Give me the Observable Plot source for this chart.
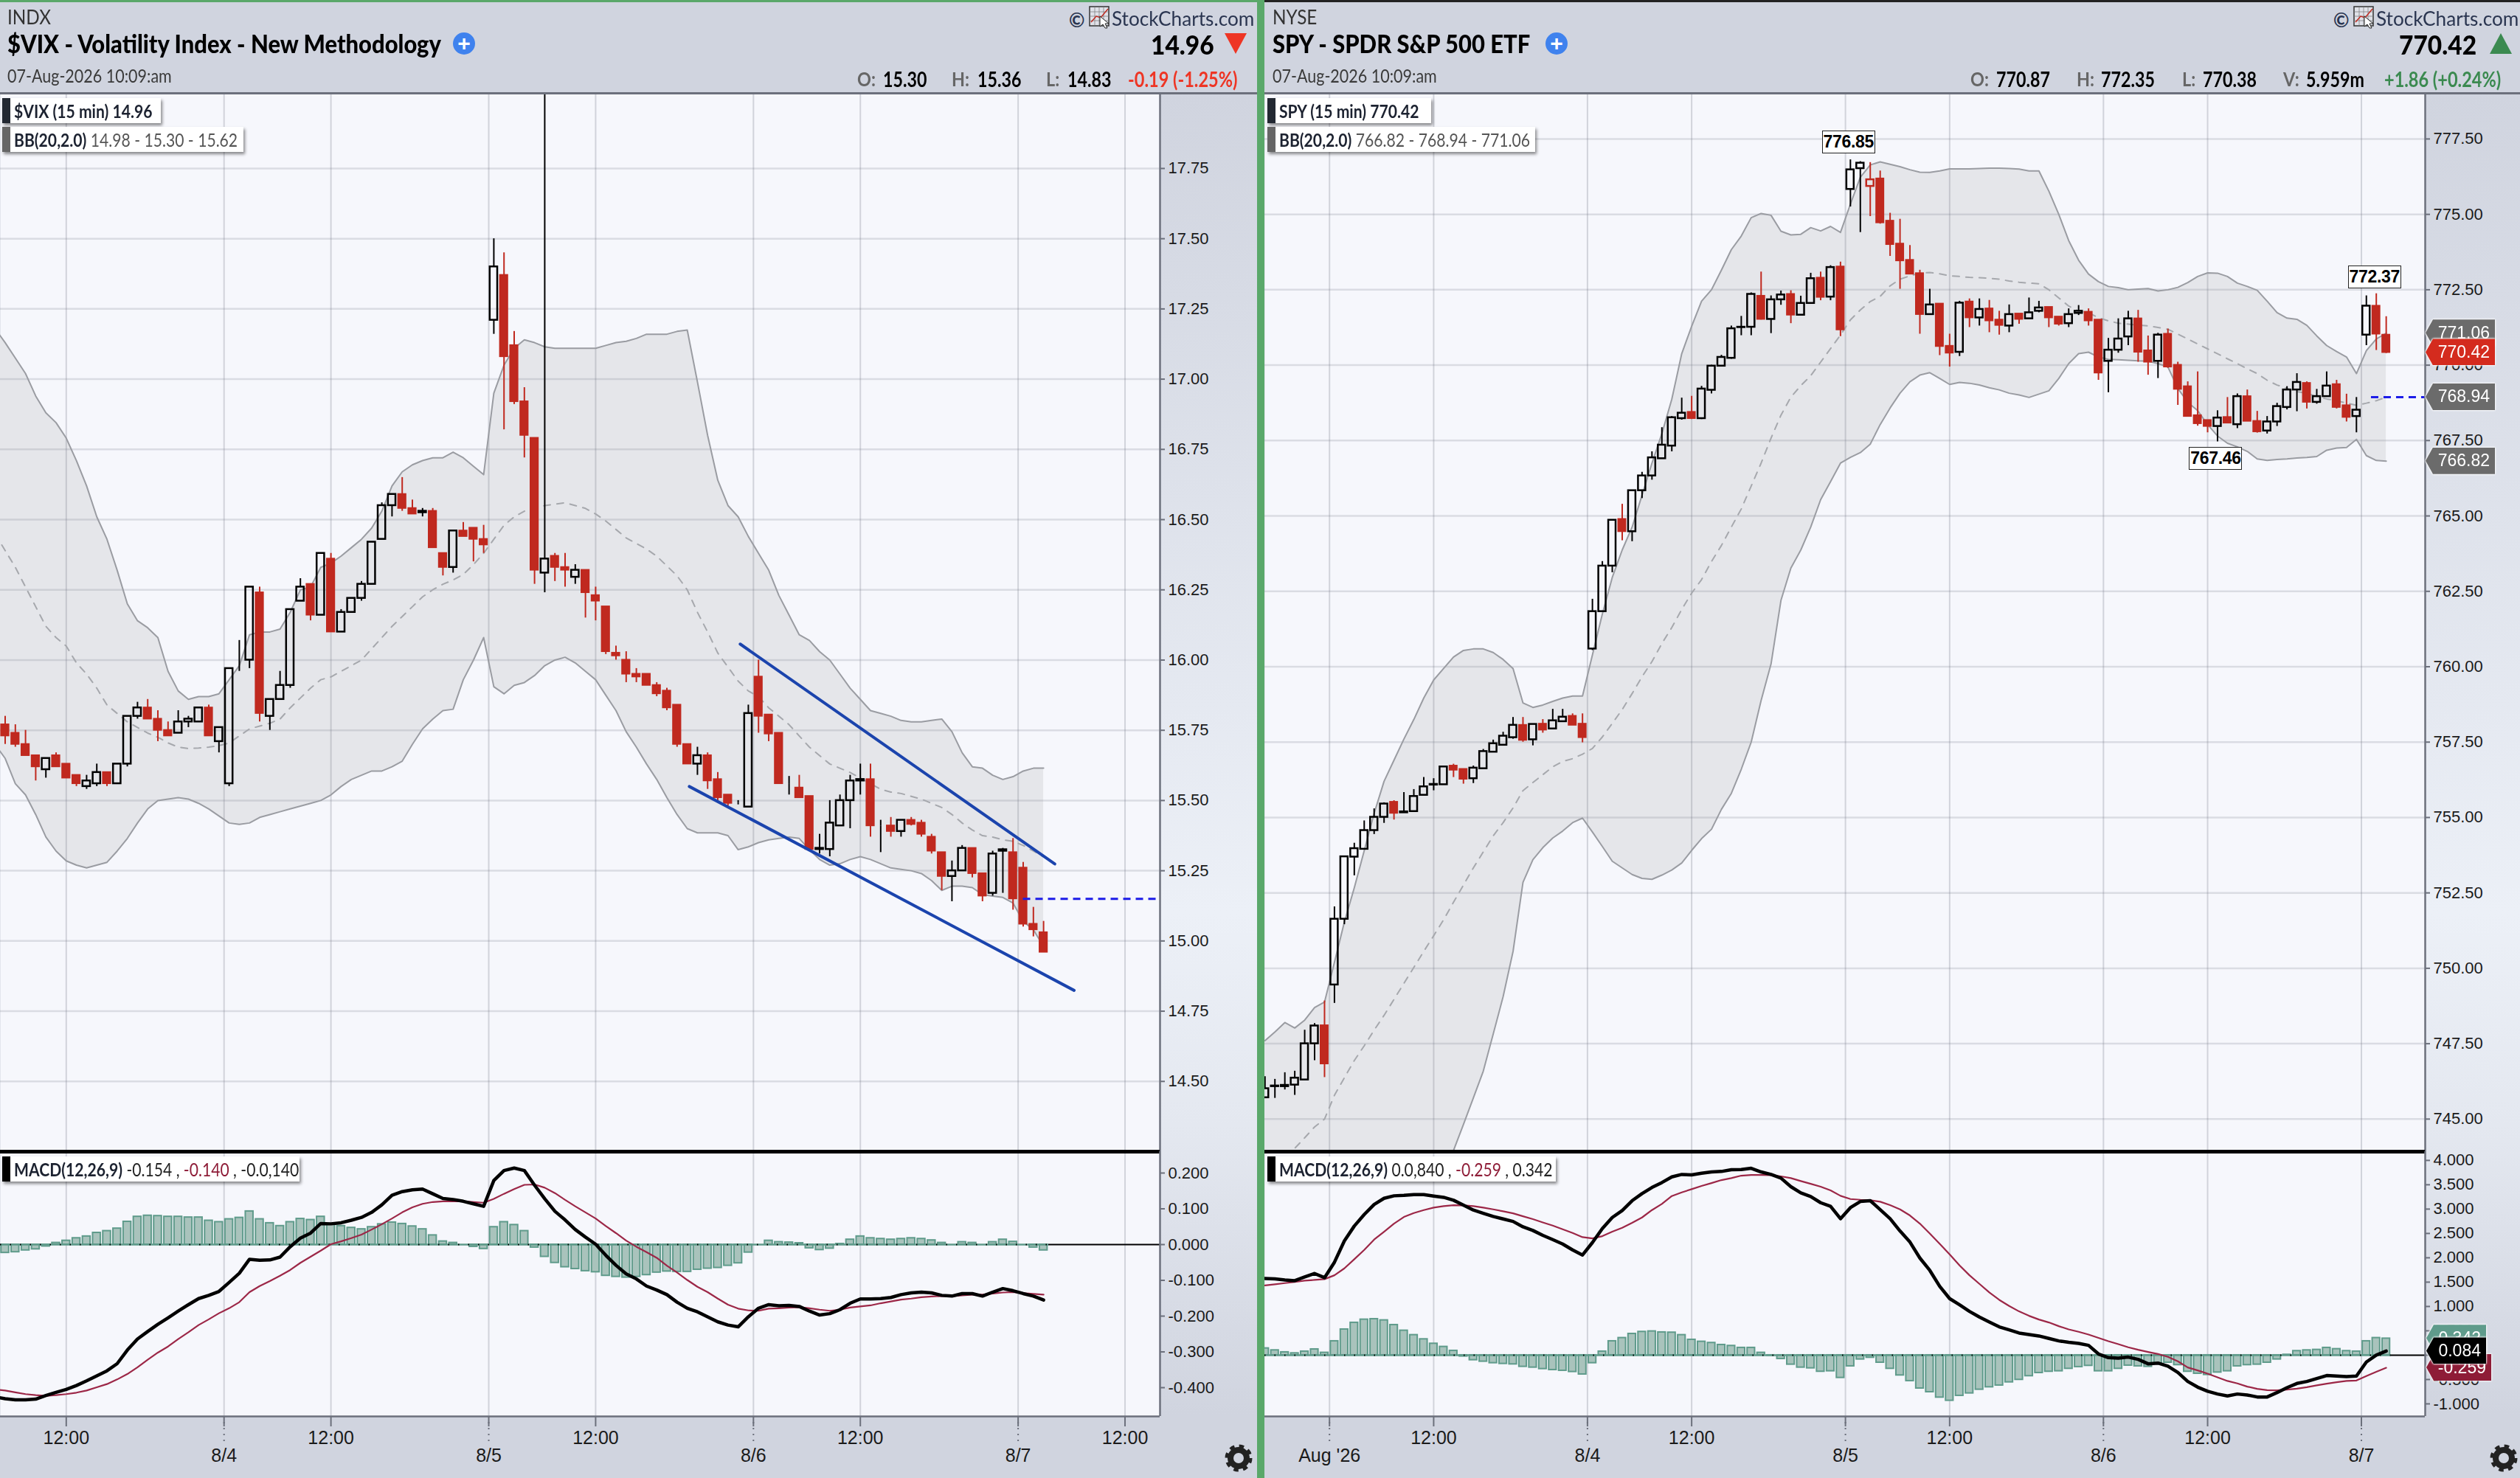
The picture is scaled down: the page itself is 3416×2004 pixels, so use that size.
<!DOCTYPE html>
<html><head><meta charset="utf-8">
<script src="https://cdn.jsdelivr.net/npm/d3@7"></script>
<script src="https://cdn.jsdelivr.net/npm/@observablehq/plot@0.6"></script>
<style>
html,body{margin:0;padding:0;background:#d0d4df;}
#root{position:relative;width:3416px;height:2004px;overflow:hidden;background:#d0d4df;font-family:Lato,sans-serif;color:#000;}
#root svg{position:absolute;background:transparent;overflow:visible;}
.t{position:absolute;white-space:pre;line-height:1;transform-origin:left top;}
.box{position:absolute;background:#fff;box-shadow:2px 3px 4px rgba(0,0,0,.45);display:flex;align-items:center;white-space:pre;font-family:Lato,sans-serif;font-size:25px;box-sizing:border-box;padding-left:16px;}
.box i{position:absolute;left:0;top:0;bottom:0;width:11px;}
.box span.in{display:inline-block;transform:scaleX(.845);transform-origin:left center;}
.tagw{position:absolute;filter:drop-shadow(0 0 1px #fff) drop-shadow(0 0 1px #fff);}
.tag{height:36px;color:#fff;font:23px "Liberation Sans",sans-serif;display:flex;align-items:center;justify-content:flex-end;padding-right:7px;box-sizing:border-box;clip-path:polygon(0 50%,10px 0,100% 0,100% 100%,10px 100%);}
.call{position:absolute;background:#fff;border:1.5px solid #222;font:bold 23px "Liberation Sans",sans-serif;letter-spacing:-.3px;display:flex;align-items:center;justify-content:center;box-sizing:border-box;height:31px;width:72px;transform:translateX(-50%);}
.plus{position:absolute;width:30px;height:30px;border-radius:50%;background:#3f82ee;color:#fff;font:bold 30px/29px "Liberation Sans";text-align:center;}
.gut{position:absolute;top:127px;height:1793px;background:linear-gradient(#d0d4df 0%,#ecf0f7 62%,#e4e8f0 78%,#d0d4df 100%);}
</style></head><body><div id="root"></div>
<script>
// ---------- tick labels ----------
const vixPriceTicks=[14.5,14.75,15,15.25,15.5,15.75,16,16.25,16.5,16.75,17,17.25,17.5,17.75];
const spyPriceTicks=[745,747.5,750,752.5,755,757.5,760,762.5,765,767.5,770,772.5,775,777.5];
const vixMacdTicks=[-0.4,-0.3,-0.2,-0.1,0,0.1,0.2];
const spyMacdTicks=[-1,-0.5,0,0.5,1,1.5,2,2.5,3,3.5,4];
const vixNoonBars=[6,32,58,84,110];
const spyNoonBars=[17,43,69,95];
const vixDayBars=[21.5,47.5,73.5,99.5];
const vixDayLabels=["8/4","8/5","8/6","8/7"];
const spyDayBars=[6.5,32.5,58.5,84.5,110.5];
const spyDayLabels=["Aug '26","8/4","8/5","8/6","8/7"];
// ---------- VIX candles ----------
const vixOpen=[15.77,15.74,15.70,15.66,15.61,15.66,15.63,15.59,15.55,15.56,15.60,15.56,15.63,15.80,15.83,15.79,15.75,15.74,15.78,15.78,15.83,15.71,15.56,15.98,16.00,16.24,15.80,15.86,15.91,16.21,16.27,16.16,16.36,16.10,16.17,16.22,16.27,16.43,16.55,16.59,16.54,16.525,16.53,16.38,16.33,16.46,16.47,16.43,17.21,17.37,17.12,16.92,16.79,16.31,16.37,16.33,16.295,16.32,16.23,16.19,16.025,16.00,15.95,15.95,15.91,15.89,15.84,15.70,15.63,15.66,15.575,15.52,15.49,15.477,15.94,15.805,15.74,15.56,15.545,15.515,15.326,15.326,15.41,15.50,15.57,15.575,15.41,15.41,15.39,15.43,15.42,15.37,15.315,15.23,15.25,15.33,15.24,15.17,15.32,15.315,15.26,15.06,15.03];
const vixHigh=[15.80,15.77,15.75,15.66,15.65,15.67,15.63,15.59,15.59,15.63,15.60,15.63,15.80,15.85,15.86,15.82,15.78,15.82,15.80,15.83,15.84,15.76,15.97,16.07,16.26,16.26,15.86,15.96,16.18,16.29,16.27,16.38,16.38,16.18,16.22,16.28,16.42,16.56,16.59,16.65,16.57,16.54,16.54,16.38,16.46,16.49,16.47,16.48,17.50,17.45,17.17,16.97,16.79,18.40,16.38,16.38,16.34,16.32,16.26,16.19,16.05,16.03,15.97,15.95,15.92,15.90,15.84,15.70,15.69,15.67,15.60,15.52,15.50,15.84,16.00,15.805,15.74,15.586,15.59,15.515,15.38,15.50,15.52,15.59,15.63,15.63,15.43,15.44,15.43,15.44,15.43,15.38,15.315,15.285,15.34,15.33,15.24,15.32,15.33,15.365,15.28,15.12,15.07];
const vixLow=[15.70,15.69,15.66,15.57,15.58,15.62,15.58,15.55,15.54,15.55,15.55,15.56,15.62,15.79,15.79,15.71,15.73,15.74,15.76,15.78,15.73,15.67,15.55,15.96,15.97,15.78,15.75,15.86,15.90,16.21,16.14,16.16,16.10,16.10,16.17,16.21,16.27,16.43,16.51,16.53,16.52,16.51,16.40,16.30,16.31,16.44,16.35,16.38,17.16,16.82,16.91,16.72,16.27,16.24,16.28,16.26,16.27,16.15,16.14,16.02,16.00,15.92,15.92,15.91,15.87,15.82,15.69,15.63,15.59,15.54,15.50,15.48,15.485,15.477,15.74,15.71,15.56,15.52,15.51,15.32,15.31,15.30,15.41,15.40,15.52,15.37,15.315,15.37,15.37,15.41,15.37,15.31,15.18,15.14,15.25,15.225,15.14,15.16,15.17,15.11,15.05,15.015,14.96];
const vixClose=[15.73,15.70,15.66,15.62,15.65,15.62,15.58,15.56,15.57,15.60,15.56,15.63,15.80,15.83,15.79,15.75,15.73,15.78,15.79,15.83,15.73,15.76,15.97,15.98,16.26,15.81,15.86,15.91,16.18,16.26,16.16,16.38,16.10,16.17,16.22,16.27,16.42,16.55,16.59,16.54,16.52,16.53,16.40,16.33,16.46,16.44,16.43,16.41,17.40,17.08,16.92,16.80,16.32,16.36,16.33,16.32,16.32,16.24,16.21,16.03,16.015,15.95,15.94,15.91,15.88,15.83,15.70,15.63,15.66,15.57,15.51,15.49,15.49,15.81,15.80,15.737,15.56,15.56,15.51,15.326,15.33,15.42,15.50,15.57,15.575,15.41,15.41,15.39,15.43,15.415,15.38,15.32,15.23,15.25,15.33,15.24,15.16,15.31,15.325,15.15,15.06,15.04,14.96];
// ---------- VIX bands (first value sits one bar left of the first candle) ----------
const vixUpper=[17.18,17.13,17.075,17.02,16.94,16.88,16.845,16.79,16.71,16.62,16.51,16.43,16.32,16.20,16.14,16.115,16.08,15.96,15.89,15.86,15.87,15.87,15.88,15.93,15.98,16.09,16.10,16.10,16.11,16.17,16.25,16.26,16.33,16.345,16.37,16.40,16.43,16.47,16.53,16.62,16.67,16.695,16.71,16.72,16.72,16.74,16.72,16.69,16.66,16.95,17.05,17.11,17.14,17.13,17.115,17.11,17.11,17.11,17.11,17.11,17.12,17.13,17.135,17.145,17.16,17.16,17.16,17.17,17.175,16.99,16.80,16.64,16.55,16.51,16.44,16.38,16.32,16.23,16.16,16.09,16.07,16.03,16.00,15.95,15.90,15.86,15.82,15.81,15.80,15.785,15.78,15.78,15.785,15.79,15.745,15.67,15.62,15.615,15.59,15.575,15.585,15.605,15.615,15.615];
const vixMid=[16.45,16.39,16.33,16.26,16.19,16.12,16.08,16.05,15.99,15.95,15.90,15.84,15.81,15.78,15.76,15.74,15.725,15.705,15.69,15.685,15.687,15.69,15.695,15.705,15.73,15.755,15.765,15.775,15.79,15.83,15.865,15.90,15.93,15.94,15.96,15.98,16.00,16.04,16.08,16.12,16.155,16.19,16.225,16.25,16.27,16.285,16.305,16.34,16.38,16.43,16.48,16.51,16.53,16.54,16.55,16.555,16.56,16.55,16.54,16.52,16.495,16.465,16.435,16.415,16.395,16.37,16.335,16.30,16.25,16.17,16.10,16.025,15.975,15.925,15.89,15.87,15.83,15.80,15.77,15.73,15.69,15.66,15.63,15.615,15.60,15.58,15.56,15.54,15.53,15.525,15.515,15.505,15.49,15.475,15.45,15.42,15.395,15.375,15.37,15.36,15.355,15.34,15.32,15.30];
const vixLower=[15.70,15.65,15.56,15.52,15.45,15.37,15.32,15.285,15.27,15.26,15.27,15.28,15.32,15.365,15.42,15.47,15.50,15.505,15.51,15.505,15.49,15.47,15.445,15.42,15.415,15.42,15.44,15.45,15.46,15.47,15.48,15.49,15.50,15.52,15.55,15.575,15.59,15.605,15.605,15.62,15.64,15.70,15.755,15.79,15.82,15.825,15.93,16.00,16.08,15.905,15.88,15.91,15.92,15.945,15.98,16.00,16.01,15.99,15.96,15.93,15.875,15.82,15.745,15.69,15.63,15.575,15.51,15.45,15.40,15.385,15.385,15.385,15.375,15.325,15.335,15.35,15.36,15.365,15.37,15.365,15.325,15.29,15.27,15.275,15.29,15.30,15.29,15.275,15.26,15.255,15.25,15.24,15.215,15.18,15.195,15.195,15.19,15.165,15.16,15.155,15.135,15.07,15.04,14.98];
// ---------- VIX MACD ----------
const vixMacd=[-0.426,-0.431,-0.434,-0.434,-0.432,-0.422,-0.413,-0.405,-0.394,-0.381,-0.367,-0.353,-0.333,-0.295,-0.264,-0.243,-0.223,-0.205,-0.186,-0.168,-0.151,-0.142,-0.131,-0.106,-0.080,-0.041,-0.044,-0.043,-0.035,-0.006,0.018,0.032,0.059,0.058,0.061,0.068,0.076,0.090,0.111,0.138,0.148,0.153,0.155,0.142,0.129,0.126,0.121,0.114,0.107,0.179,0.207,0.214,0.207,0.166,0.128,0.093,0.069,0.042,0.021,0.001,-0.030,-0.058,-0.082,-0.096,-0.116,-0.127,-0.140,-0.161,-0.178,-0.188,-0.202,-0.216,-0.225,-0.230,-0.202,-0.178,-0.168,-0.171,-0.170,-0.173,-0.186,-0.197,-0.193,-0.182,-0.164,-0.152,-0.152,-0.151,-0.148,-0.140,-0.135,-0.133,-0.135,-0.142,-0.144,-0.137,-0.137,-0.144,-0.133,-0.123,-0.129,-0.137,-0.144,-0.155];
const vixSignal=[-0.405,-0.408,-0.413,-0.418,-0.421,-0.423,-0.421,-0.418,-0.414,-0.408,-0.399,-0.390,-0.377,-0.362,-0.343,-0.322,-0.302,-0.285,-0.264,-0.245,-0.225,-0.209,-0.192,-0.178,-0.161,-0.133,-0.116,-0.102,-0.087,-0.071,-0.051,-0.034,-0.017,0.001,0.009,0.018,0.028,0.042,0.057,0.073,0.090,0.104,0.114,0.119,0.121,0.121,0.121,0.119,0.117,0.128,0.142,0.155,0.167,0.168,0.159,0.144,0.125,0.107,0.090,0.073,0.052,0.032,0.011,-0.006,-0.021,-0.037,-0.059,-0.078,-0.099,-0.118,-0.133,-0.151,-0.168,-0.179,-0.184,-0.185,-0.179,-0.178,-0.176,-0.175,-0.178,-0.182,-0.185,-0.182,-0.176,-0.173,-0.170,-0.164,-0.159,-0.154,-0.151,-0.147,-0.145,-0.144,-0.144,-0.142,-0.140,-0.140,-0.137,-0.134,-0.133,-0.136,-0.138,-0.140];
const vixHist=[-0.023,-0.021,-0.016,-0.013,-0.005,0.005,0.011,0.018,0.023,0.033,0.038,0.045,0.064,0.078,0.081,0.080,0.078,0.078,0.076,0.076,0.067,0.063,0.071,0.075,0.093,0.071,0.060,0.052,0.063,0.072,0.069,0.078,0.057,0.052,0.047,0.043,0.049,0.057,0.062,0.058,0.051,0.043,0.026,0.009,0.005,0,-0.006,-0.012,0.049,0.063,0.055,0.038,-0.008,-0.034,-0.051,-0.063,-0.068,-0.074,-0.077,-0.087,-0.090,-0.092,-0.090,-0.085,-0.078,-0.075,-0.076,-0.076,-0.070,-0.067,-0.065,-0.059,-0.052,-0.022,0,0.011,0.007,0.006,0.004,-0.010,-0.015,-0.011,0.002,0.014,0.023,0.018,0.016,0.014,0.016,0.018,0.016,0.012,0.005,0,0.007,0.005,0,0.007,0.014,0.008,0,-0.008,-0.016];
// ---------- SPY candles ----------
const spyOpen=[745.71,746.08,746.08,746.13,746.30,747.50,748.10,749.45,751.63,753.69,753.95,754.57,755.01,755.51,755.16,755.20,755.74,756.08,756.09,756.71,756.60,756.29,756.62,757.17,757.40,757.65,758.06,757.58,758.10,757.94,758.18,758.36,758.10,760.59,761.83,763.34,764.89,764.48,765.84,766.33,766.90,767.32,768.23,768.44,768.23,769.17,769.97,770.23,771.25,771.26,772.29,771.52,772.17,772.35,771.66,772.05,772.89,772.26,773.26,775.83,776.52,775.93,776.18,774.78,774.02,773.48,773.04,771.68,772.03,770.63,770.43,772.10,771.57,771.87,771.50,771.30,771.70,771.54,771.79,771.92,771.60,771.38,771.72,771.76,771.50,770.13,770.50,770.94,771.54,770.48,770.13,771.03,770.00,769.29,768.33,768.17,767.97,768.27,768.03,768.96,768.14,767.82,768.12,768.60,769.18,769.40,768.77,768.96,769.36,768.66,768.30,771.00,771.96,771.00];
const spyHigh=[746.41,746.32,746.54,746.59,747.95,748.17,748.92,752.04,753.70,754.15,754.89,755.29,755.49,755.56,755.83,755.93,756.33,756.29,756.70,756.77,756.60,756.71,757.26,757.57,757.83,758.32,758.32,758.10,758.25,758.59,758.59,758.44,758.44,762.24,763.49,764.86,765.39,765.84,766.45,767.13,767.93,768.30,768.91,768.97,769.30,770.00,770.33,771.30,771.62,772.40,773.09,772.30,772.46,772.47,772.29,773.05,773.09,773.30,773.42,776.81,776.75,776.72,776.44,775.04,774.84,773.97,773.15,772.52,772.03,771.03,772.12,772.20,772.20,772.15,771.79,772.00,771.70,772.23,772.12,771.92,771.60,771.87,771.98,771.87,771.50,770.89,771.54,771.79,771.82,770.97,771.06,771.20,770.10,769.45,769.78,768.17,768.49,768.93,769.05,769.18,768.47,768.30,768.74,769.29,769.72,769.45,769.20,769.78,769.50,769.04,768.93,772.30,772.37,771.61];
const spyLow=[745.71,745.69,745.97,745.79,746.30,746.94,746.38,748.84,751.45,753.07,753.95,754.44,754.81,754.92,755.16,755.20,755.74,755.89,756.08,756.33,756.11,756.13,756.62,757.17,757.40,757.60,757.50,757.38,757.80,757.94,758.18,758.06,757.48,760.54,761.83,763.12,764.18,764.15,765.58,766.19,766.90,767.13,768.18,768.20,768.20,769.05,769.97,770.20,770.98,770.98,771.50,771.05,771.99,771.38,771.66,772.05,772.14,772.14,770.95,775.25,774.40,774.93,774.68,773.61,772.52,773.02,771.03,771.68,770.32,769.94,770.29,771.25,771.30,771.08,771.00,771.08,771.36,771.54,771.74,771.25,771.30,771.25,771.65,771.30,769.50,769.09,770.40,770.65,770.10,769.67,769.56,769.90,768.67,768.28,767.98,767.76,767.46,768.06,767.90,768.14,767.75,767.72,767.97,768.52,768.46,768.55,768.71,768.96,768.55,768.12,767.76,770.65,770.49,770.39];
const spyClose=[746.01,746.10,746.12,746.36,747.50,748.09,746.83,751.63,753.70,753.97,754.57,755.01,755.45,755.14,755.19,755.70,756.02,756.10,756.68,756.57,756.27,756.64,757.19,757.45,757.70,758.06,757.56,758.09,757.90,758.21,758.33,758.06,757.65,761.83,763.34,764.86,764.48,765.84,766.33,766.93,767.35,768.26,768.41,768.23,769.21,769.97,770.26,771.21,771.26,772.35,771.52,772.17,772.33,771.66,772.05,772.87,772.25,773.24,771.17,776.48,776.70,776.15,774.72,774.00,773.46,773.02,771.68,772.00,770.62,770.40,772.06,771.57,771.85,771.47,771.32,771.68,771.52,771.74,771.90,771.57,771.36,771.68,771.79,771.47,769.74,770.50,770.87,771.54,770.43,770.10,771.00,769.94,769.20,768.30,768.06,767.97,768.25,768.08,768.96,768.14,767.79,768.12,768.63,769.18,769.43,768.77,768.96,769.31,768.60,768.27,768.51,771.96,771.03,770.42];
const spyRedHollow=[61];
// ---------- SPY bands ----------
const spyUpper=[747.60,747.89,748.20,748.02,748.28,748.70,748.88,750.20,751.53,752.67,753.90,755.14,756.20,756.90,757.60,758.25,758.96,759.56,759.94,760.32,760.54,760.59,760.59,760.47,760.24,759.94,758.80,758.65,758.73,758.85,758.96,759.03,759.03,760.39,761.75,762.96,763.87,764.63,765.69,766.75,767.73,768.87,770.38,771.29,772.12,772.50,773.15,773.83,774.28,774.89,775.03,774.97,774.44,774.32,774.34,774.56,774.45,774.60,774.40,775.34,776.23,776.64,776.74,776.66,776.58,776.48,776.40,776.39,776.44,776.51,776.51,776.51,776.52,776.53,776.53,776.52,776.50,776.44,776.44,775.77,775.00,774.13,773.48,773.02,772.77,772.61,772.57,772.50,772.52,772.54,772.46,772.50,772.58,772.74,772.94,773.06,773.05,772.94,772.72,772.61,772.48,772.12,771.74,771.56,771.52,771.32,770.97,770.65,770.45,770.27,769.72,770.48,770.87,771.06];
const spyMid=[743.20,743.40,743.70,744.03,744.38,744.74,745.00,745.79,746.37,746.94,747.43,747.95,748.44,748.97,749.50,750.03,750.56,751.08,751.61,752.19,752.76,753.33,753.86,754.39,754.83,755.32,755.89,756.16,756.42,756.68,756.86,756.95,757.10,757.29,757.67,758.12,758.58,759.11,759.67,760.17,760.77,761.30,761.90,762.44,762.89,763.49,764.02,764.63,765.23,765.99,766.75,767.58,768.34,768.94,769.32,769.65,770.10,770.55,771.00,771.50,771.83,772.11,772.28,772.63,772.85,772.96,773.05,773.07,773.03,772.96,772.94,772.91,772.90,772.88,772.85,772.79,772.75,772.72,772.70,772.50,772.23,771.96,771.79,771.74,771.57,771.47,771.39,771.36,771.33,771.30,771.25,771.19,771.03,770.87,770.70,770.54,770.38,770.21,770.05,769.88,769.72,769.50,769.34,769.23,769.12,769.07,768.96,768.88,768.82,768.74,768.67,768.74,768.82,768.94];
const spyLower=[738.90,738.80,738.60,738.50,738.50,738.60,738.70,738.90,739.20,739.60,740.00,740.40,740.80,741.30,741.80,742.30,742.70,743.00,743.50,743.96,744.82,745.70,746.59,747.82,749.06,750.56,752.85,753.60,754.00,754.32,754.55,754.83,754.98,754.52,754.04,753.55,753.33,753.11,752.98,752.95,753.09,753.26,753.49,753.91,754.30,754.61,755.27,755.80,756.60,757.50,758.88,760.09,762.20,763.27,763.87,764.63,765.54,766.14,766.75,766.94,767.10,767.38,768.03,768.58,769.07,769.45,769.67,769.75,769.56,769.36,769.43,769.40,769.34,769.25,769.18,769.07,769.01,768.93,769.04,769.15,769.56,770.05,770.38,770.43,770.27,770.19,770.18,770.16,770.14,770.13,770.05,769.94,769.23,768.77,768.49,768.03,767.65,767.41,767.29,767.14,766.89,766.84,766.87,766.89,766.92,766.94,766.97,767.18,767.25,767.27,767.54,767.00,766.84,766.82];
// ---------- SPY MACD ----------
const spyMacd=[1.576,1.566,1.545,1.530,1.606,1.677,1.591,1.909,2.348,2.652,2.889,3.096,3.222,3.273,3.283,3.298,3.298,3.268,3.242,3.182,3.081,2.980,2.914,2.848,2.798,2.747,2.636,2.561,2.460,2.374,2.283,2.162,2.056,2.313,2.601,2.828,2.970,3.172,3.318,3.444,3.545,3.662,3.712,3.702,3.737,3.763,3.773,3.808,3.813,3.838,3.763,3.712,3.636,3.460,3.333,3.258,3.131,3.056,2.803,3.030,3.157,3.172,2.990,2.803,2.551,2.323,1.995,1.742,1.414,1.162,1.035,0.899,0.783,0.682,0.581,0.520,0.455,0.424,0.394,0.343,0.293,0.263,0.242,0.202,0.025,-0.051,-0.061,-0.040,-0.086,-0.177,-0.162,-0.227,-0.354,-0.540,-0.657,-0.742,-0.798,-0.838,-0.798,-0.818,-0.859,-0.859,-0.768,-0.667,-0.581,-0.540,-0.480,-0.419,-0.429,-0.439,-0.429,-0.141,0.000,0.084];
const spySignal=[1.434,1.455,1.480,1.505,1.530,1.545,1.561,1.641,1.783,1.970,2.162,2.374,2.535,2.702,2.838,2.919,2.980,3.030,3.061,3.081,3.076,3.061,3.030,2.995,2.955,2.914,2.853,2.793,2.727,2.662,2.586,2.510,2.424,2.399,2.444,2.535,2.616,2.717,2.828,2.980,3.106,3.268,3.343,3.409,3.475,3.535,3.596,3.636,3.687,3.702,3.702,3.697,3.672,3.636,3.576,3.520,3.460,3.384,3.273,3.207,3.192,3.182,3.152,3.081,2.995,2.869,2.702,2.500,2.288,2.071,1.843,1.641,1.465,1.288,1.136,1.010,0.899,0.808,0.732,0.672,0.596,0.530,0.480,0.424,0.354,0.288,0.227,0.162,0.111,0.066,0.025,-0.035,-0.126,-0.253,-0.313,-0.379,-0.455,-0.530,-0.581,-0.646,-0.692,-0.717,-0.722,-0.707,-0.687,-0.657,-0.621,-0.586,-0.556,-0.530,-0.520,-0.429,-0.343,-0.259];
const spyHist=[0.141,0.101,0.061,0.040,0.076,0.121,0.051,0.288,0.530,0.667,0.732,0.742,0.717,0.621,0.505,0.414,0.328,0.237,0.172,0.091,-0.025,-0.101,-0.131,-0.162,-0.177,-0.187,-0.237,-0.253,-0.283,-0.303,-0.318,-0.343,-0.394,-0.162,0.076,0.288,0.354,0.439,0.480,0.490,0.470,0.465,0.414,0.318,0.278,0.253,0.212,0.192,0.152,0.152,0.051,-0.010,-0.076,-0.192,-0.253,-0.268,-0.338,-0.328,-0.465,-0.227,-0.086,-0.051,-0.152,-0.278,-0.414,-0.530,-0.682,-0.758,-0.869,-0.934,-0.833,-0.783,-0.707,-0.657,-0.621,-0.556,-0.505,-0.429,-0.364,-0.338,-0.328,-0.278,-0.242,-0.217,-0.328,-0.328,-0.278,-0.212,-0.227,-0.237,-0.177,-0.152,-0.202,-0.338,-0.379,-0.404,-0.354,-0.328,-0.227,-0.202,-0.192,-0.152,-0.086,0.010,0.086,0.101,0.111,0.152,0.126,0.086,0.076,0.288,0.354,0.342];
// ---------- annotations ----------
const vixChannelTop=[{n:72.2,v:16.057},{n:103.1,v:15.274}];
const vixChannelBottom=[{n:67.2,v:15.55},{n:105,v:14.824}];
const vixPrevClose=15.15, spyPrevClose=768.94;
const spyCallouts=[{n:59,v:776.85,above:true},{n:112,v:772.37,above:true},{n:96,v:767.46,above:false}];
const spyPriceTags=[{v:771.06,c:"#6b6b6b"},{v:768.94,c:"#6b6b6b"},{v:766.82,c:"#6b6b6b"},{v:770.42,c:"#d42b1e"}];
const spyMacdTags=[{v:0.342,t:"0.342",c:"#5f9b8b"},{v:-0.259,t:"-0.259",c:"#8e1c37"},{v:0.084,t:"0.084",c:"#000"}];

const UP="#000", DOWN="#c0291f", BAND="#e5e6ea", BANDLINE="#9a9ca2", GRIDV="rgba(110,115,130,.27)", GRIDH="rgba(110,115,130,.2)", AXIS="#6c707c", TXT="#1a1a1a";
const root=document.getElementById("root");
function el(cls,left,top,html,css){const d=document.createElement("div");d.className=cls;d.style.left=left+"px";d.style.top=top+"px";d.innerHTML=html;if(css)d.style.cssText+=";"+css;root.appendChild(d);return d;}
const AXF='"Liberation Sans",sans-serif';

function pricePanel(c){
  const rows=c.open.map((o,i)=>{const h=c.high[i],l=c.low[i],cl=c.close[i];return {n:i,o,h,l,c:cl,top:Math.max(o,cl),bot:Math.min(o,cl),red:cl<o||c.redHollow.includes(i),filled:cl<o};});
  const band=c.upper.map((u,i)=>({n:i+c.bandStart,u,m:c.mid[i],l:c.lower[i]}));
  const wick=(set,col)=>[
    Plot.ruleX(set,{x:"n",y1:"h",y2:"top",stroke:col,strokeWidth:2,clip:"frame"}),
    Plot.ruleX(set,{x:"n",y1:"bot",y2:"l",stroke:col,strokeWidth:2,clip:"frame"})];
  const body=(set,col,fill,sw)=>Plot.rect(set,{x1:d=>d.n-0.37,x2:d=>d.n+0.37,y1:"bot",y2:"top",stroke:col,fill,strokeWidth:sw,clip:"frame"});
  const red=rows.filter(d=>d.red), blk=rows.filter(d=>!d.red);
  const xMax=c.xDomain[1];
  const p=Plot.plot({
    width:c.width,height:1434,marginLeft:0,marginRight:c.width-c.plotW,marginTop:0,marginBottom:0,
    x:{domain:c.xDomain,axis:null},
    y:{domain:c.yDomain,axis:null},
    style:{fontFamily:AXF,background:"transparent",overflow:"visible"},
    marks:[
      Plot.frame({fill:"#f6f7fc",stroke:null}),
      Plot.areaY(band,{x:"n",y1:"l",y2:"u",fill:BAND,clip:"frame"}),
      Plot.ruleY(c.ticks,{stroke:GRIDH,strokeWidth:2.5}),
      Plot.ruleX(c.days.concat(c.noons),{stroke:GRIDV,strokeWidth:2}),
      Plot.line(band,{x:"n",y:"u",stroke:BANDLINE,strokeWidth:2,clip:"frame"}),
      Plot.line(band,{x:"n",y:"l",stroke:BANDLINE,strokeWidth:2,clip:"frame"}),
      Plot.line(band,{x:"n",y:"m",stroke:"#a6a8ad",strokeWidth:2,strokeDasharray:"9 9",clip:"frame"}),
      ...wick(blk,UP),...wick(red,DOWN),
      body(blk,UP,"none",2.5),
      body(red.filter(d=>d.filled),DOWN,DOWN,2),
      body(red.filter(d=>!d.filled),DOWN,"none",2.5),
      ...(c.extra||[]),
      Plot.ruleY([c.prev],{x1:c.prevFrom,x2:xMax,stroke:"#1c1ce8",strokeWidth:3,strokeDasharray:"10 7"}),
      Plot.ruleX([xMax],{stroke:AXIS,strokeWidth:2.5}),
      Plot.axisY({anchor:"right",ticks:c.ticks,tickFormat:d=>d.toFixed(2),tickSize:6,tickPadding:5,fontSize:22,label:null,fill:TXT,stroke:AXIS,strokeWidth:2})
    ]});
  p.style.left=c.left+"px";p.style.top="127px";root.appendChild(p);
  return p;
}
function macdPanel(c){
  const lines=c.macd.map((m,i)=>({n:i+c.bandStart,m,s:c.signal[i]}));
  const hist=c.hist.map((v,i)=>({n:i,v}));
  const xMax=c.xDomain[1], last=hist.length-1;
  const p=Plot.plot({
    width:c.width,height:443,marginLeft:0,marginRight:c.width-c.plotW,marginTop:0,marginBottom:84,
    x:{domain:c.xDomain,axis:null},
    y:{domain:c.yDomain,axis:null},
    style:{fontFamily:AXF,background:"transparent",overflow:"visible"},
    marks:[
      Plot.frame({fill:"#f6f7fc",stroke:null}),
      Plot.ruleX(c.days.concat(c.noons),{stroke:GRIDV,strokeWidth:2}),
      Plot.rect(hist,{x1:d=>d.n-0.38,x2:d=>d.n+0.38,y1:()=>0,y2:"v",fill:"#a9c3bc",stroke:"#5f9b8b",strokeWidth:2}),
      Plot.ruleY([0],{x1:c.xDomain[0],x2:last+0.5,stroke:"#5f9b8b",strokeWidth:2.5}),
      Plot.ruleY([0],{x1:c.xDomain[0],x2:last+0.5,stroke:"#000",strokeWidth:2,strokeDasharray:"1.5 12"}),
      Plot.ruleY([0],{x1:last+0.5,x2:xMax,stroke:"#000",strokeWidth:2}),
      Plot.line(lines,{x:"n",y:"s",stroke:"#9c2747",strokeWidth:2.2,clip:"frame"}),
      Plot.line(lines,{x:"n",y:"m",stroke:"#000",strokeWidth:4.5,clip:"frame"}),
      Plot.ruleY([c.yDomain[1]],{stroke:"#000",strokeWidth:5}),
      Plot.ruleY([c.yDomain[0]],{stroke:AXIS,strokeWidth:2.5}),
      Plot.ruleX([xMax],{stroke:AXIS,strokeWidth:2.5}),
      Plot.axisY({anchor:"right",ticks:c.ticks,tickFormat:d=>d.toFixed(3),tickSize:6,tickPadding:5,fontSize:22,label:null,fill:TXT,stroke:AXIS,strokeWidth:2}),
      Plot.axisX({ticks:c.noons,tickFormat:()=>"12:00",tickSize:14,tickPadding:6,fontSize:25,label:null,fill:TXT,stroke:AXIS,strokeWidth:2}),
      Plot.axisX({ticks:c.days,tickFormat:d=>c.dayLabels[c.days.indexOf(d)],tickSize:40,tickPadding:4,fontSize:25,label:null,fill:TXT,stroke:AXIS,strokeWidth:2,strokeDasharray:"2 6"}),
      Plot.axisX({ticks:c.days,text:null,tickSize:14,label:null,stroke:AXIS,strokeWidth:2})
    ]});
  p.style.left=c.left+"px";p.style.top="1561px";root.appendChild(p);
  return p;
}
// gutters
el("gut",1572,127,"","width:132px");
el("gut",3287,127,"","width:129px");

const vixX=[-0.471,113.44], spyX=[-0.02,116.93];
const vixP=pricePanel({left:0,width:1704,plotW:1572,xDomain:vixX,yDomain:[14.25,18.015],ticks:vixPriceTicks,days:vixDayBars,noons:vixNoonBars,
  open:vixOpen,high:vixHigh,low:vixLow,close:vixClose,upper:vixUpper,mid:vixMid,lower:vixLower,bandStart:-1,redHollow:[],prev:vixPrevClose,prevFrom:100,
  extra:[Plot.line(vixChannelTop,{x:"n",y:"v",stroke:"#1b44ad",strokeWidth:4}),Plot.line(vixChannelBottom,{x:"n",y:"v",stroke:"#1b44ad",strokeWidth:4})]});
const vixM=macdPanel({left:0,width:1704,plotW:1572,xDomain:vixX,yDomain:[-0.4804,0.2598],ticks:vixMacdTicks,days:vixDayBars,noons:vixNoonBars,dayLabels:vixDayLabels,
  macd:vixMacd,signal:vixSignal,hist:vixHist,bandStart:-1});
const spyP=pricePanel({left:1714,width:1702,plotW:1573,xDomain:spyX,yDomain:[743.92,778.99],ticks:spyPriceTicks,days:spyDayBars,noons:spyNoonBars,
  open:spyOpen,high:spyHigh,low:spyLow,close:spyClose,upper:spyUpper,mid:spyMid,lower:spyLower,bandStart:0,redHollow:spyRedHollow,prev:spyPrevClose,prevFrom:111.5});
const spyM=macdPanel({left:1714,width:1702,plotW:1573,xDomain:spyX,yDomain:[-1.258,4.18],ticks:spyMacdTicks,days:spyDayBars,noons:spyNoonBars,dayLabels:spyDayLabels,
  macd:spyMacd,signal:spySignal,hist:spyHist,bandStart:0});

// separators / header rules
el("t",0,0,"","width:1714px;height:3px;background:#5aa86a");
el("t",1714,0,"","width:1702px;height:3px;background:#222");
el("t",0,125,"","width:3416px;height:3px;background:#6c707c");
el("t",1704,0,"","width:10px;height:2004px;background:#5aa86a");

// header text
function header(x0,xr,ex,name,px,pxLeft,plusX,ohlc,chg,chgCol,chgX){
  el("t",x0,9,ex,"font-size:27px;color:#333;transform:scaleX(.9)");
  el("t",x0,42,name,"font-weight:900;font-size:34px;color:#000;transform:scaleX(.91)");
  el("plus",plusX,44,"+");
  el("t",x0,90,"07-Aug-2026 10:09:am","font-size:25px;color:#3a3a3a;transform:scaleX(.86)");
  el("t",xr-243,11,"©","font:bold 26px Lato;color:#2a3550");
  el("t",xr-216,8,'<svg width="29" height="30" style="position:static" viewBox="0 0 29 30"><rect x="1" y="1" width="26" height="26" fill="#dfe1e8" stroke="#333" stroke-width="1.5"/><path d="M1 8H27M1 14H27M1 20H27M8 1V27M14 1V27M20 1V27" stroke="#777" stroke-width=".7"/><path d="M3 22L10 14L16 16L26 4" stroke="#c0291f" fill="none" stroke-width="1.5"/><path d="M15 14L27 24L22 24L25 30L22 30L19 25L15 28Z" fill="#fff" stroke="#222"/></svg>');
  el("t",xr-185,11,"StockCharts.com","font-size:27px;color:#2a3550;transform:scaleX(.97)");
  el("t",pxLeft,42,px,"font-weight:900;font-size:36px;color:#000;transform:scaleX(.93)");
  ohlc.forEach(o=>{ el("t",o.lx,94,o.l,"font-size:26px;color:#666;font-weight:700;transform:scaleX(.9)"); el("t",o.vx,93,o.v,"font-size:28px;color:#000;font-weight:700;transform:scaleX(.83)"); });
  el("t",chgX,93,chg,"font-size:28px;font-weight:700;transform:scaleX(.84);color:"+chgCol);
}
header(10,1692,"INDX","$VIX - Volatility Index - New Methodology","14.96",1560,614,
  [{l:"O:",lx:1162,v:"15.30",vx:1197},{l:"H:",lx:1290,v:"15.36",vx:1325},{l:"L:",lx:1418,v:"14.83",vx:1447}],"-0.19 (-1.25%)","#ee3524",1529);
header(1725,3406,"NYSE","SPY - SPDR S&amp;P 500 ETF","770.42",3252,2095,
  [{l:"O:",lx:2671,v:"770.87",vx:2706},{l:"H:",lx:2815,v:"772.35",vx:2848},{l:"L:",lx:2958,v:"770.38",vx:2986},{l:"V:",lx:3095,v:"5.959m",vx:3126}],"+1.86 (+0.24%)","#3b8a50",3232);
el("t",1660,45,"","width:0;height:0;border-left:15px solid transparent;border-right:15px solid transparent;border-top:28px solid #ee3524");
el("t",3375,45,"","width:0;height:0;border-left:15px solid transparent;border-right:15px solid transparent;border-bottom:28px solid #3b8a50");

// legend boxes
function legend(x,y,w,bar,html){return el("box",x,y,'<i style="background:'+bar+'"></i><span class="in">'+html+'</span>',"width:"+w+"px;height:34px");}
legend(3,133,215,"#222832",'<b style="color:#1c2230">$VIX (15 min) 14.96</b>');
legend(3,172,327,"#666",'<b style="color:#1c2230">BB(20,2.0)</b><span style="color:#555"> 14.98 - 15.30 - 15.62</span>');
legend(3,1568,403,"#000",'<b style="color:#1c2230">MACD(12,26,9)</b><span style="color:#222"> -0.154 , </span><span style="color:#8e1c37">-0.140</span><span style="color:#222"> , -0.0,140</span>');
legend(1718,133,222,"#222832",'<b style="color:#1c2230">SPY (15 min) 770.42</b>');
legend(1718,172,363,"#666",'<b style="color:#1c2230">BB(20,2.0)</b><span style="color:#555"> 766.82 - 768.94 - 771.06</span>');
legend(1718,1568,391,"#000",'<b style="color:#1c2230">MACD(12,26,9)</b><span style="color:#222"> 0.0,840 , </span><span style="color:#8e1c37">-0.259</span><span style="color:#222"> , 0.342</span>');

// callouts & tags use the plots' own scales
const sx=spyP.scale("x"), sy=spyP.scale("y"), my=spyM.scale("y");
spyCallouts.forEach(d=>{const X=1714+sx.apply(d.n)-2,Y=127+sy.apply(d.v);el("call",X,d.above?Y-38:Y+8,d.v.toFixed(2));});
function tag(x,y,w,txt,col){el("tagw",x,y,'<div class="tag" style="width:'+w+'px;background:'+col+'">'+txt+'</div>');}
spyPriceTags.forEach(d=>tag(3288,127+sy.apply(d.v)-18,94,d.v.toFixed(2),d.c));
spyMacdTags.forEach(d=>tag(3289,1561+my.apply(d.v)-18,d.t.length>5?88:81,d.t,d.c));
// settings gears
function gear(cx,cy){el("t",cx-20,cy-20,'<svg width="40" height="40" style="position:static" viewBox="-20 -20 40 40"><circle r="11" fill="none" stroke="#222" stroke-width="8"/><circle r="15.5" fill="none" stroke="#222" stroke-width="6" stroke-dasharray="6.2 6"/></svg>');}
gear(1679,1977);gear(3394,1977);
</script></body></html>
